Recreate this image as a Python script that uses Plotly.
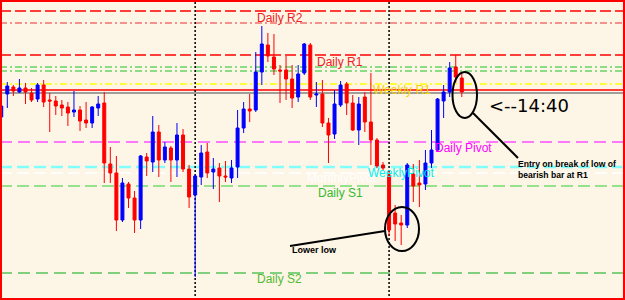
import plotly.graph_objects as go

# ---- candle data ----
bars = list(range(77))
opens = [1.3183, 1.3206, 1.3213, 1.3208, 1.3212, 1.3207, 1.3201, 1.3215, 1.3200, 1.3199,
         1.3195, 1.3193, 1.3188, 1.3190, 1.3180, 1.3177, 1.3192, 1.3197, 1.3136, 1.3127,
         1.3080, 1.3116, 1.3102, 1.3080, 1.3143, 1.3138, 1.3168, 1.3140, 1.3152, 1.3140,
         1.3165, 1.3131, 1.3105, 1.3123, 1.3148, 1.3128, 1.3132, 1.3124, 1.3122, 1.3133,
         1.3172, 1.3191, 1.3190, 1.3228, 1.3255, 1.3243, 1.3230, 1.3230, 1.3221, 1.3203,
         1.3227, 1.3255, 1.3205, 1.3206, 1.3177, 1.3166, 1.3195, 1.3216, 1.3197, 1.3170,
         1.3203, 1.3178, 1.3160, 1.3135, 1.3125, 1.3087, 1.3077, 1.3075, 1.3126, 1.3117,
         1.3116, 1.3137, 1.3150, 1.3199, 1.3208, 1.3233, 1.3222]
highs = [1.3196, 1.3218, 1.3215, 1.3221, 1.3217, 1.3212, 1.3217, 1.3220, 1.3207, 1.3204,
         1.3200, 1.3198, 1.3209, 1.3194, 1.3198, 1.3194, 1.3204, 1.3208, 1.3153, 1.3144,
         1.3122, 1.3118, 1.3109, 1.3145, 1.3147, 1.3184, 1.3175, 1.3158, 1.3154, 1.3177,
         1.3171, 1.3135, 1.3125, 1.3155, 1.3157, 1.3142, 1.3137, 1.3139, 1.3140, 1.3190,
         1.3198, 1.3206, 1.3248, 1.3274, 1.3267, 1.3266, 1.3235, 1.3244, 1.3235, 1.3235,
         1.3257, 1.3257, 1.3218, 1.3220, 1.3182, 1.3210, 1.3219, 1.3218, 1.3205, 1.3203,
         1.3208, 1.3227, 1.3162, 1.3138, 1.3130, 1.3095, 1.3085, 1.3137, 1.3136, 1.3140,
         1.3150, 1.3170, 1.3202, 1.3215, 1.3238, 1.3245, 1.3227]
lows = [1.3181, 1.3192, 1.3204, 1.3207, 1.3196, 1.3198, 1.3198, 1.3193, 1.3168, 1.3185,
        1.3184, 1.3174, 1.3183, 1.3169, 1.3172, 1.3172, 1.3184, 1.3117, 1.3117, 1.3069,
        1.3078, 1.3092, 1.3067, 1.3071, 1.3124, 1.3128, 1.3123, 1.3137, 1.3118, 1.3123,
        1.3128, 1.3092, 1.3023, 1.3115, 1.3122, 1.3111, 1.3098, 1.3118, 1.3117, 1.3122,
        1.3167, 1.3178, 1.3188, 1.3215, 1.3238, 1.3225, 1.3197, 1.3200, 1.3192, 1.3198,
        1.3225, 1.3200, 1.3193, 1.3173, 1.3137, 1.3161, 1.3193, 1.3185, 1.3169, 1.3155,
        1.3168, 1.3135, 1.3132, 1.3130, 1.3064, 1.3059, 1.3055, 1.3072, 1.3098, 1.3093,
        1.3110, 1.3132, 1.3148, 1.3182, 1.3203, 1.3217, 1.3203]
closes = [1.3194, 1.3214, 1.3209, 1.3212, 1.3208, 1.3200, 1.3215, 1.3198, 1.3199, 1.3194,
          1.3192, 1.3187, 1.3190, 1.3179, 1.3177, 1.3193, 1.3196, 1.3137, 1.3127, 1.3080,
          1.3117, 1.3102, 1.3080, 1.3144, 1.3139, 1.3168, 1.3140, 1.3153, 1.3140, 1.3165,
          1.3131, 1.3103, 1.3124, 1.3147, 1.3127, 1.3131, 1.3124, 1.3123, 1.3132, 1.3172,
          1.3191, 1.3189, 1.3228, 1.3256, 1.3244, 1.3231, 1.3229, 1.3221, 1.3202, 1.3226,
          1.3256, 1.3203, 1.3206, 1.3177, 1.3165, 1.3196, 1.3215, 1.3197, 1.3170, 1.3196,
          1.3178, 1.3160, 1.3134, 1.3132, 1.3070, 1.3076, 1.3075, 1.3135, 1.3114, 1.3115,
          1.3137, 1.3150, 1.3201, 1.3208, 1.3232, 1.3223, 1.3208]

# ---- pivot levels ----
level_names = ["Daily R2", "Upper dash-dot", "Daily R1", "Green dash-dot A", "Green dash-dot B",
               "Weekly R1", "Red solid", "Gray solid", "Daily Pivot", "WeeklyPivot",
               "MonthlyPivot", "Daily S1", "Daily S2"]
level_prices = [1.3289, 1.3277, 1.3245, 1.3233, 1.3229, 1.3216, 1.3210, 1.3207,
                1.3158, 1.3133, 1.3127, 1.3114, 1.3027]
separators = [0, 32, 64]

W, H = 625, 300
BG = "#FDF5E6"

level_styles = {
    "Daily R2": dict(color="#FF0000", width=1.3, dash="11px,4px"),
    "Upper dash-dot": dict(color="#F07070", width=1.5, dash="7px,3px,2px,3px"),
    "Daily R1": dict(color="#FF0000", width=1.3, dash="11px,4px"),
    "Green dash-dot A": dict(color="#66D466", width=1.5, dash="7px,3px,2px,3px"),
    "Green dash-dot B": dict(color="#66D466", width=1.5, dash="7px,3px,2px,3px"),
    "Weekly R1": dict(color="#FFFF00", width=1.5, dash="7px,3px,2px,3px"),
    "Red solid": dict(color="#FF0000", width=1.5, dash="solid"),
    "Gray solid": dict(color="#808080", width=1.5, dash="solid"),
    "Daily Pivot": dict(color="#FF77FF", width=2, dash="12px,6px"),
    "WeeklyPivot": dict(color="#80FFFF", width=2.5, dash="12px,5px"),
    "MonthlyPivot": dict(color="#FFFFFF", width=1.5, dash="12px,5px"),
    "Daily S1": dict(color="#33CC33", width=1.2, dash="12px,5px"),
    "Daily S2": dict(color="#80D080", width=2, dash="12px,6px"),
}

fig = go.Figure()
fig.add_trace(go.Candlestick(
    x=bars, open=opens, high=highs, low=lows, close=closes,
    increasing=dict(line=dict(color="#0000FF", width=1), fillcolor="#0000FF"),
    decreasing=dict(line=dict(color="#FF0000", width=1), fillcolor="#FF0000"),
    hoverinfo="skip", showlegend=False,
))

def px(x):
    return x / W

def py(y):
    return 1 - y / H

shapes = []
for name, p in zip(level_names, level_prices):
    st = level_styles[name]
    shapes.append(dict(type="line", xref="paper", yref="y", x0=0, x1=1, y0=p, y1=p,
                       layer="below", line=st))
for s in separators:
    shapes.append(dict(type="line", xref="x", yref="paper", x0=s, x1=s, y0=0, y1=1,
                       layer="below", line=dict(color="#000000", width=1.5, dash="2px,2px")))

# ellipses and pointer lines
shapes.append(dict(type="circle", xref="paper", yref="paper",
                   x0=px(452.5), x1=px(477), y0=py(118), y1=py(72),
                   line=dict(color="#000000", width=2)))
shapes.append(dict(type="line", xref="paper", yref="paper",
                   x0=px(473), y0=py(113), x1=px(518), y1=py(158),
                   line=dict(color="#000000", width=2)))
shapes.append(dict(type="circle", xref="paper", yref="paper",
                   x0=px(385), x1=px(419), y0=py(251), y1=py(207),
                   line=dict(color="#000000", width=2)))
shapes.append(dict(type="line", xref="paper", yref="paper",
                   x0=px(385), y0=py(231), x1=px(290), y1=py(246),
                   line=dict(color="#000000", width=2)))
# red frame
shapes.append(dict(type="rect", xref="paper", yref="paper", x0=0, x1=1, y0=0, y1=1,
                   line=dict(color="#FF0000", width=4)))

LBL = "Liberation Sans, Arial, sans-serif"
ann = []
def label(text, x, y, color, size=12, font=LBL, xanchor="center"):
    ann.append(dict(text=text, x=px(x), y=py(y), xref="paper", yref="paper",
                    xanchor=xanchor, yanchor="middle", showarrow=False,
                    font=dict(family=font, size=size, color=color)))

label("Daily R2", 280, 18, "#EE2222")
label("Daily R1", 340, 62, "#EE2222")
label("Weekly R1", 402, 90, "#F2D200")
label("Daily Pivot", 463, 148, "#FF00FF")
label("MonthlyPivot", 341, 178, "#FFFFFF")
label("WeeklyPivot", 401, 173, "#00F0F0")
label("Daily S1", 340, 193, "#33BB33")
label("Daily S2", 279, 279, "#55BB33")
label("<--14:40", 487, 105, "#000000", size=18, font="DejaVu Sans, Verdana, sans-serif", xanchor="left")
label("<b>Entry on break of low of</b>", 516, 164, "#000000", size=8.6, xanchor="left")
label("<b>bearish bar at R1</b>", 516, 175, "#000000", size=8.6, xanchor="left")
label("<b>Lower low</b>", 290, 250, "#000000", size=9, xanchor="left")

spacing = 6.06
x0px = 1.24
fig.update_layout(
    width=W, height=H, margin=dict(l=0, r=0, t=0, b=0),
    paper_bgcolor=BG, plot_bgcolor=BG,
    shapes=shapes, annotations=ann, showlegend=False,
    xaxis=dict(range=[-x0px / spacing, (W - x0px) / spacing], visible=False,
               rangeslider=dict(visible=False), fixedrange=True),
    yaxis=dict(range=[1.3000, 1.3300], visible=False, fixedrange=True),
    hovermode=False,
)

fig.write_html("out.html")
